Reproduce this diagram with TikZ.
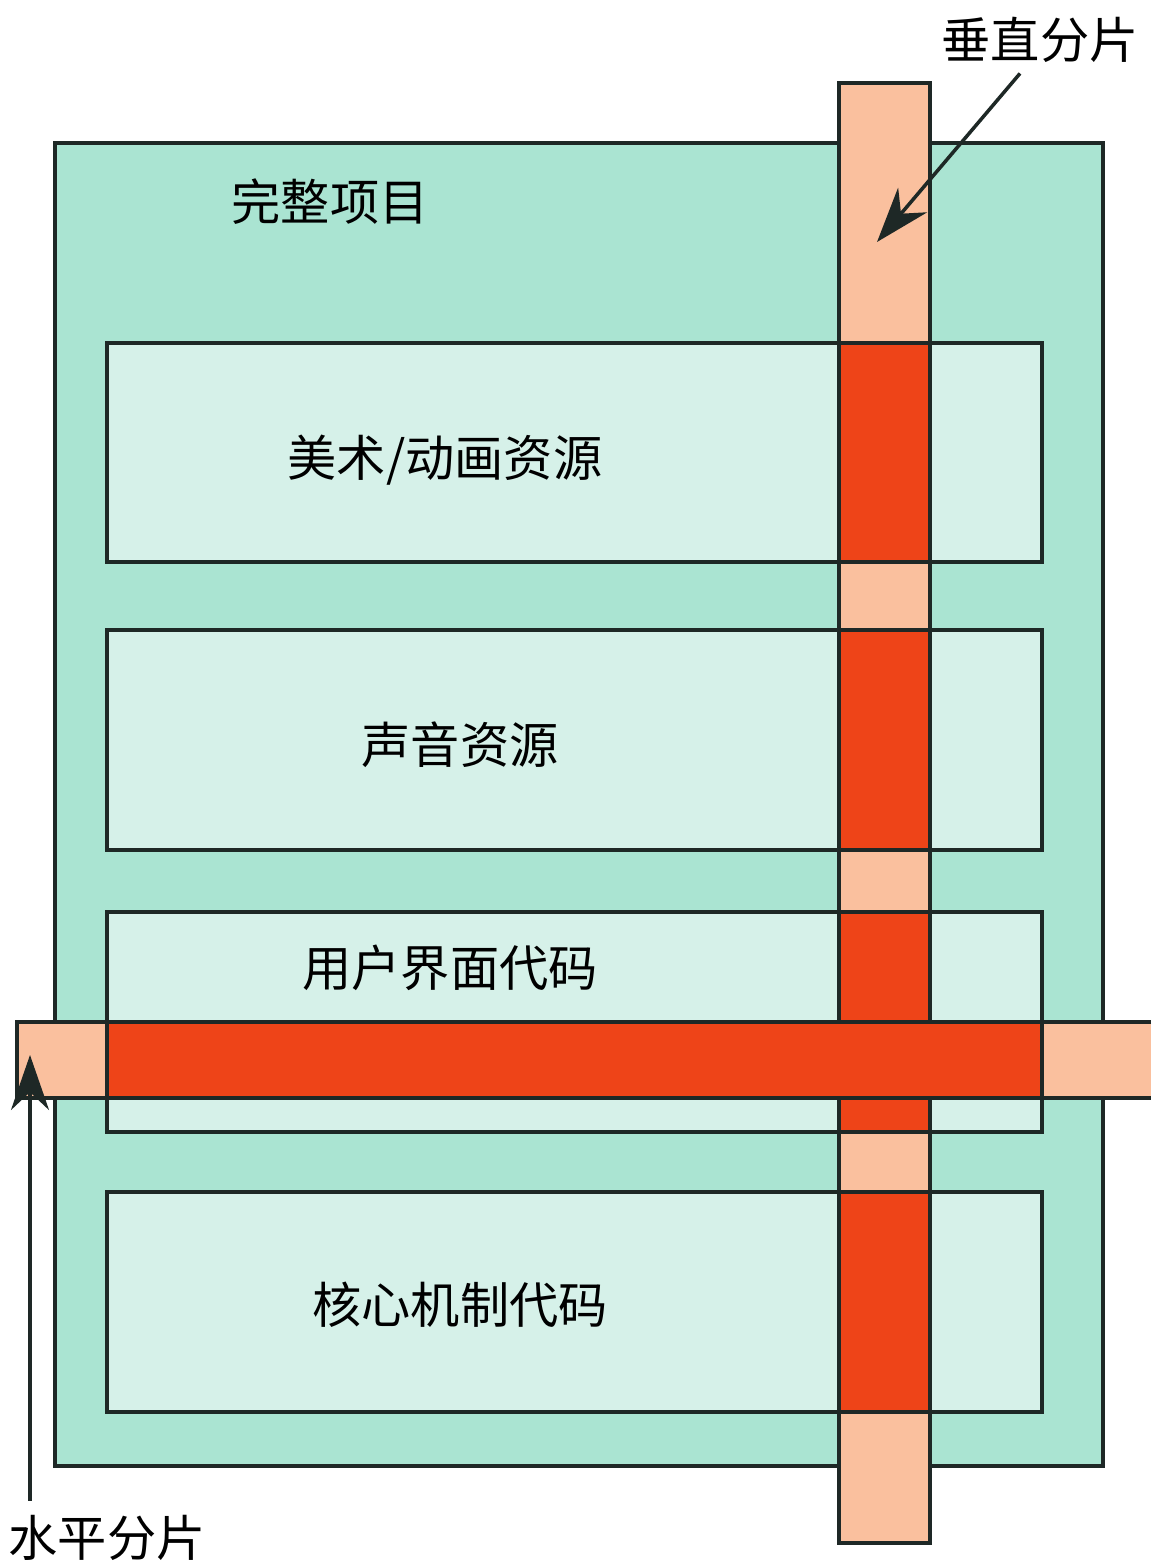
\documentclass[tikz,border=0pt]{standalone}
\usepackage{fontspec}
\setmainfont{Noto Sans CJK SC}
\usetikzlibrary{arrows.meta}
\definecolor{projteal}{RGB}{170,228,210}
\definecolor{partmint}{RGB}{214,241,233}
\definecolor{slicepeach}{RGB}{250,192,158}
\definecolor{slicered}{RGB}{238,68,24}
\definecolor{edgeink}{RGB}{30,40,38}
\tikzset{
x=0.1mm, y=-0.1mm, % one unit per pixel of the sketch, y runs downwards
outline/.style={draw=edgeink, line width=1pt}, % dark frame of every block
project/.style={outline, fill=projteal}, % the whole project
part/.style={outline, fill=partmint}, % one part of the project
slice/.style={outline, fill=slicepeach}, % a slice where it misses the parts
cut/.style={outline, fill=slicered}, % a slice where it crosses a part
blocktext/.style={font=\fontsize{14}{16}\selectfont, inner sep=0pt},
pointer/.style={-{Stealth[length=5.5mm, width=3.8mm]}, line width=1pt, draw=edgeink},
}

\begin{document}
\begin{tikzpicture}
    \useasboundingbox (0,0) rectangle (1151,1564);
    \path[project] (55,143) rectangle (1103,1466);
    \foreach \ya/\yb in {343/562, 630/850, 912/1132, 1192/1412}
        \path[part] (107,\ya) rectangle (1042,\yb);
    % vertical slice
    \path[slice] (839,83) rectangle (930,1543);
    \foreach \ya/\yb in {343/562, 630/850, 912/1132, 1192/1412}
        \path[cut] (839,\ya) rectangle (930,\yb);
    % horizontal slice
    \fill[slicepeach] (17,1022) rectangle (1151,1098);
    \draw[outline] (1151,1022) -- (17,1022) -- (17,1098) -- (1151,1098);
    \path[cut] (107,1022) rectangle (1042,1098);

    \node[blocktext] (whole) at (330,202) {完整项目};
    \node[blocktext] (art) at (445,460) {美术/动画资源};
    \node[blocktext] (sound) at (460,745) {声音资源};
    \node[blocktext] (ui) at (450,968) {用户界面代码};
    \node[blocktext] (core) at (460,1305) {核心机制代码};

    \node[blocktext] (vslice) at (1040,40) {垂直分片};
    \node[blocktext] (hslice) at (107,1538) {水平分片};
    \coordinate (vtip) at (877,242);
    \coordinate (htip) at (30,1055);
    \draw[pointer] ([xshift=-2mm,yshift=-1mm]vslice.south) -- (vtip);
    \draw[pointer] ([yshift=1.4mm]hslice.north -| htip) -- (htip);
  \end{tikzpicture}
\end{document}
